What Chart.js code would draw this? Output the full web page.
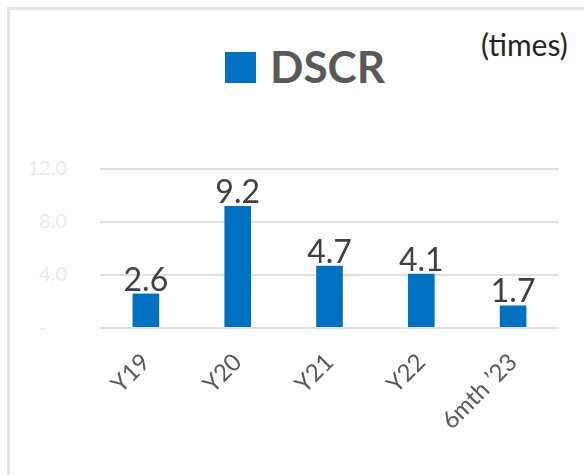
<!DOCTYPE html>
<html>
<head>
<meta charset="utf-8">
<script src="https://cdn.jsdelivr.net/npm/chart.js@4.4.0/dist/chart.umd.min.js"></script>
<style>
    html, body { margin: 0; padding: 0; background: #fff; overflow: hidden; }
    #wrap { position: relative; width: 584px; height: 475px; }
    #frame {
        position: absolute; left: 7px; top: 7px; width: 600px; height: 500px;
        border-left: 3px solid #e4e4e4; border-top: 3px solid #e4e4e4;
    }
    #legendBox {
        position: absolute; left: 225px; top: 52px; width: 31px; height: 31px;
        background: #0070C0;
    }
    #legendText {
        position: absolute; left: 270px; top: 44px;
        font: bold 44px/44px Lato, sans-serif; color: #595959;
    }
    #units {
        position: absolute; left: 481px; top: 29px;
        font: 30px/30px Lato, sans-serif; color: #262626;
    }
    canvas { position: absolute; left: 0; top: 0; }
</style>
</head>
<body>
<div id="wrap">
    <div id="frame"></div>
    <div id="legendBox"></div>
    <div id="legendText">DSCR</div>
    <div id="units">(times)</div>
    <canvas id="chart" width="584" height="475"></canvas>
</div>
<script>
const categories = ['Y19', 'Y20', 'Y21', 'Y22', '6mth \u201923'];
const dscrValues = [2.6, 9.2, 4.7, 4.1, 1.7];
const yTicks = [0, 4, 8, 12];

// draws the value above each bar
const valueLabels = {
    id: 'valueLabels',
    afterDatasetsDraw(chart) {
        const ctx = chart.ctx;
        const meta = chart.getDatasetMeta(0);
        ctx.save();
        ctx.font = '32px Lato, sans-serif';
        ctx.fillStyle = '#404040';
        ctx.textAlign = 'center';
        ctx.textBaseline = 'alphabetic';
        meta.data.forEach((bar, i) => {
            ctx.fillText(dscrValues[i].toFixed(1), bar.x, bar.y - 3);
        });
        ctx.restore();
    }
};

new Chart(document.getElementById('chart'), {
    type: 'bar',
    data: {
        labels: categories,
        datasets: [{
            label: 'DSCR',
            data: dscrValues,
            backgroundColor: '#0070C0',
            categoryPercentage: 1,
            barPercentage: 0.29
        }]
    },
    options: {
        responsive: false,
        animation: false,
        layout: { padding: { left: 0, right: 25, top: 169, bottom: 0 } },
        plugins: {
            legend: { display: false },
            tooltip: { enabled: false }
        },
        scales: {
            x: {
                grid: { display: false },
                border: { display: false },
                ticks: {
                    color: '#595959',
                    font: { family: 'Lato', size: 24 },
                    minRotation: 45,
                    maxRotation: 45,
                    padding: 12
                },
                afterFit(scale) { scale.height = 147; }
            },
            y: {
                min: 0,
                max: 12,
                afterBuildTicks(scale) { scale.ticks = yTicks.map(v => ({ value: v })); },
                grid: { color: '#e0e0e0', lineWidth: 2, drawTicks: false },
                border: { display: false },
                ticks: {
                    color: '#ebebeb',
                    font: { family: 'Lato', size: 20 },
                    padding: 33,
                    callback: v => v === 0 ? '-    ' : v.toFixed(1)
                },
                afterFit(scale) { scale.width = 100; }
            }
        }
    },
    plugins: [valueLabels]
});
</script>
</body>
</html>
